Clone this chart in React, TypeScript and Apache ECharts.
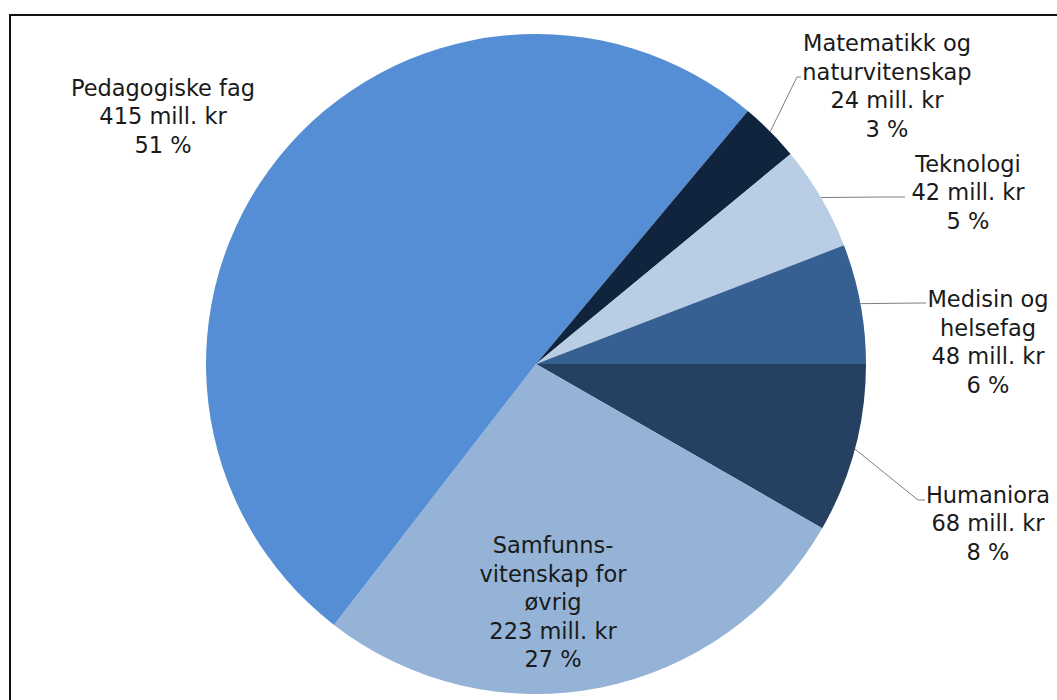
import React, { useEffect, useRef } from "react";
import * as echarts from "echarts";

const categories = [
  "Humaniora",
  "Samfunns-\nvitenskap for\nøvrig",
  "Pedagogiske fag",
  "Matematikk og\nnaturvitenskap",
  "Teknologi",
  "Medisin og\nhelsefag",
];
const values = [68, 223, 415, 24, 42, 48];
const colors = ["#254061", "#95b3d7", "#558ed5", "#10243e", "#b9cde5", "#376092"];

// label placement (style only): centre of each label block, and leader-line bend/end
const labelCenters: number[][] = [
  [988, 523],
  [553, 602],
  [163, 116],
  [887, 86],
  [968, 192],
  [988, 342],
];
const leaderBends: (number[][] | null)[] = [
  [[918, 500], [925, 500]],
  null,
  null,
  [[797, 77], [801, 77]],
  [[880, 197], [905, 197]],
  [[920, 303], [926, 303]],
];

export default function App() {
  const ref = useRef<HTMLDivElement>(null);
  useEffect(() => {
    if (!ref.current) return;
    const chart = echarts.init(ref.current, null, { renderer: "svg" });
    const data = categories.map((name, i) => ({
      name,
      value: values[i],
      itemStyle: { color: colors[i] },
      label: i === 1 ? { position: "inside" } : undefined,
      labelLine: { show: leaderBends[i] !== null },
    }));
    chart.setOption({
      animation: false,
      backgroundColor: "#ffffff",
      graphic: [
        {
          type: "rect",
          shape: { x: 10, y: 15, width: 1200, height: 900 },
          style: { fill: "none", stroke: "#111111", lineWidth: 2 },
          z: 10,
        },
      ],
      series: [
        {
          type: "pie",
          center: [536, 364],
          radius: 330,
          startAngle: 0,
          clockwise: true,
          percentPrecision: 0,
          avoidLabelOverlap: false,
          data,
          label: {
            show: true,
            position: "outside",
            formatter: "{b}\n{c} mill. kr\n{d} %",
            fontFamily: "DejaVu Sans, Verdana, sans-serif",
            fontSize: 22.5,
            lineHeight: 28.5,
            color: "#1a1a1a",
            align: "center",
          },
          labelLine: {
            show: true,
            length: 20,
            length2: 20,
            lineStyle: { color: "#7f7f7f", width: 1 },
          },
          labelLayout: (params: any) => {
            const i = params.dataIndex;
            const c = labelCenters[i];
            const res: any = { x: c[0], y: c[1], align: "center", verticalAlign: "middle" };
            const bend = leaderBends[i];
            if (bend && params.labelLinePoints && params.labelLinePoints[0]) {
              res.labelLinePoints = [params.labelLinePoints[0], bend[0], bend[1]];
            }
            return res;
          },
        },
      ],
    });
    return () => chart.dispose();
  }, []);
  return (
    <div
      ref={ref}
      style={{ position: "fixed", left: 0, top: 0, width: 1057, height: 700, background: "#fff" }}
    />
  );
}
